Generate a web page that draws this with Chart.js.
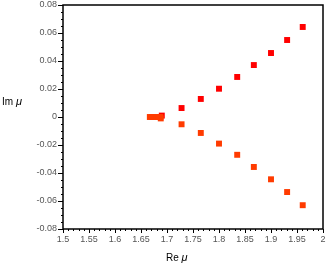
<!DOCTYPE html>
<html>
<head>
<meta charset="utf-8">
<script src="https://cdn.jsdelivr.net/npm/chart.js@4"></script>
<style>
  html, body { margin: 0; padding: 0; background: #fff; }
  #wrap { width: 327px; height: 273px; }
</style>
</head>
<body>
<div id="wrap"><canvas id="chart"></canvas></div>
<script>
// eigenvalues mu
const reUpper = [1.690, 1.728, 1.765, 1.800, 1.835, 1.867, 1.900, 1.931, 1.961];
const imUpper = [0.001, 0.0064, 0.0129, 0.0202, 0.0286, 0.0371, 0.0457, 0.055, 0.0643];
const reLower = [1.688, 1.728, 1.765, 1.800, 1.835, 1.867, 1.900, 1.931, 1.961];
const imLower = [-0.001, -0.0052, -0.0114, -0.019, -0.027, -0.0357, -0.0445, -0.0536, -0.063];
const reCluster = [1.667, 1.671, 1.675, 1.679, 1.683, 1.687];
const imCluster = [0, 0, 0, 0, 0, 0];

const xTicks = [1.5, 1.55, 1.6, 1.65, 1.7, 1.75, 1.8, 1.85, 1.9, 1.95, 2];
const yTicks = [-0.08, -0.06, -0.04, -0.02, 0, 0.02, 0.04, 0.06, 0.08];

const pts = (xs, ys) => xs.map((x, i) => ({ x: x, y: ys[i] }));

const font = { family: 'Liberation Sans, Arial, sans-serif', size: 9 };

// minor ticks, frame and axis titles
const decor = {
  id: 'decor',
  afterDraw(chart) {
    const { ctx, chartArea: a, scales: { x, y } } = chart;
    ctx.save();
    ctx.strokeStyle = '#000';
    ctx.lineWidth = 1;
    ctx.beginPath();
    for (let i = 0; i <= 50; i++) {
      const px = Math.round(x.getPixelForValue(1.5 + i * 0.01)) + 0.5;
      const len = i % 5 === 0 ? 4 : 2;
      ctx.moveTo(px, a.bottom);
      ctx.lineTo(px, a.bottom + len);
    }
    for (let i = 0; i <= 32; i++) {
      const py = Math.round(y.getPixelForValue(-0.08 + i * 0.005)) + 0.5;
      const len = i % 4 === 0 ? 5 : 2;
      ctx.moveTo(a.left, py);
      ctx.lineTo(a.left - len, py);
    }
    ctx.stroke();
    ctx.lineWidth = 1.5;
    ctx.strokeRect(a.left, a.top, a.right - a.left, a.bottom - a.top);
    ctx.fillStyle = '#000';
    ctx.textBaseline = 'middle';
    const drawLabel = (tx, ty) => {
      ctx.font = '10px Liberation Sans, Arial, sans-serif';
      ctx.fillText(tx, ty[0], ty[1]);
      const w = ctx.measureText(tx).width;
      ctx.font = 'italic 11px Liberation Sans, Arial, sans-serif';
      ctx.fillText('\u03bc', ty[0] + w, ty[1]);
    };
    drawLabel('Im ', [2, 102]);
    drawLabel('Re ', [166, 258]);
    ctx.restore();
  }
};

new Chart(document.getElementById('chart'), {
  type: 'scatter',
  data: {
    datasets: [
      { data: pts(reCluster, imCluster), backgroundColor: '#ff3b00', borderColor: '#ff3b00' },
      { data: pts(reLower, imLower), backgroundColor: '#ff3b00', borderColor: '#ff3b00' },
      { data: pts(reUpper, imUpper), backgroundColor: '#ff0000', borderColor: '#ff0000' }
    ]
  },
  options: {
    responsive: true,
    maintainAspectRatio: false,
    animation: false,
    layout: { autoPadding: false, padding: { left: 0, top: 5, right: 4, bottom: 0 } },
    elements: { point: { pointStyle: 'rect', radius: 4.2, borderWidth: 0 } },
    plugins: { legend: { display: false }, tooltip: { enabled: false } },
    scales: {
      x: {
        type: 'linear', min: 1.5, max: 2,
        afterBuildTicks: s => { s.ticks = xTicks.map(v => ({ value: v })); },
        afterFit: s => { s.height = 44; s.paddingLeft = 0; s.paddingRight = 0; },
        grid: { display: false, drawTicks: false },
        border: { display: false },
        ticks: { color: '#555', font: font, padding: 5, maxRotation: 0, autoSkip: false,
          callback: v => String(Math.round(v * 100) / 100) }
      },
      y: {
        type: 'linear', min: -0.08, max: 0.08,
        afterBuildTicks: s => { s.ticks = yTicks.map(v => ({ value: v })); },
        afterFit: s => { s.width = 63; s.paddingTop = 0; s.paddingBottom = 0; },
        grid: { display: false, drawTicks: false },
        border: { display: false },
        ticks: { color: '#555', font: font, padding: 6, autoSkip: false,
          callback: v => String(Math.round(v * 100) / 100) }
      }
    }
  },
  plugins: [decor]
});
</script>
</body>
</html>
